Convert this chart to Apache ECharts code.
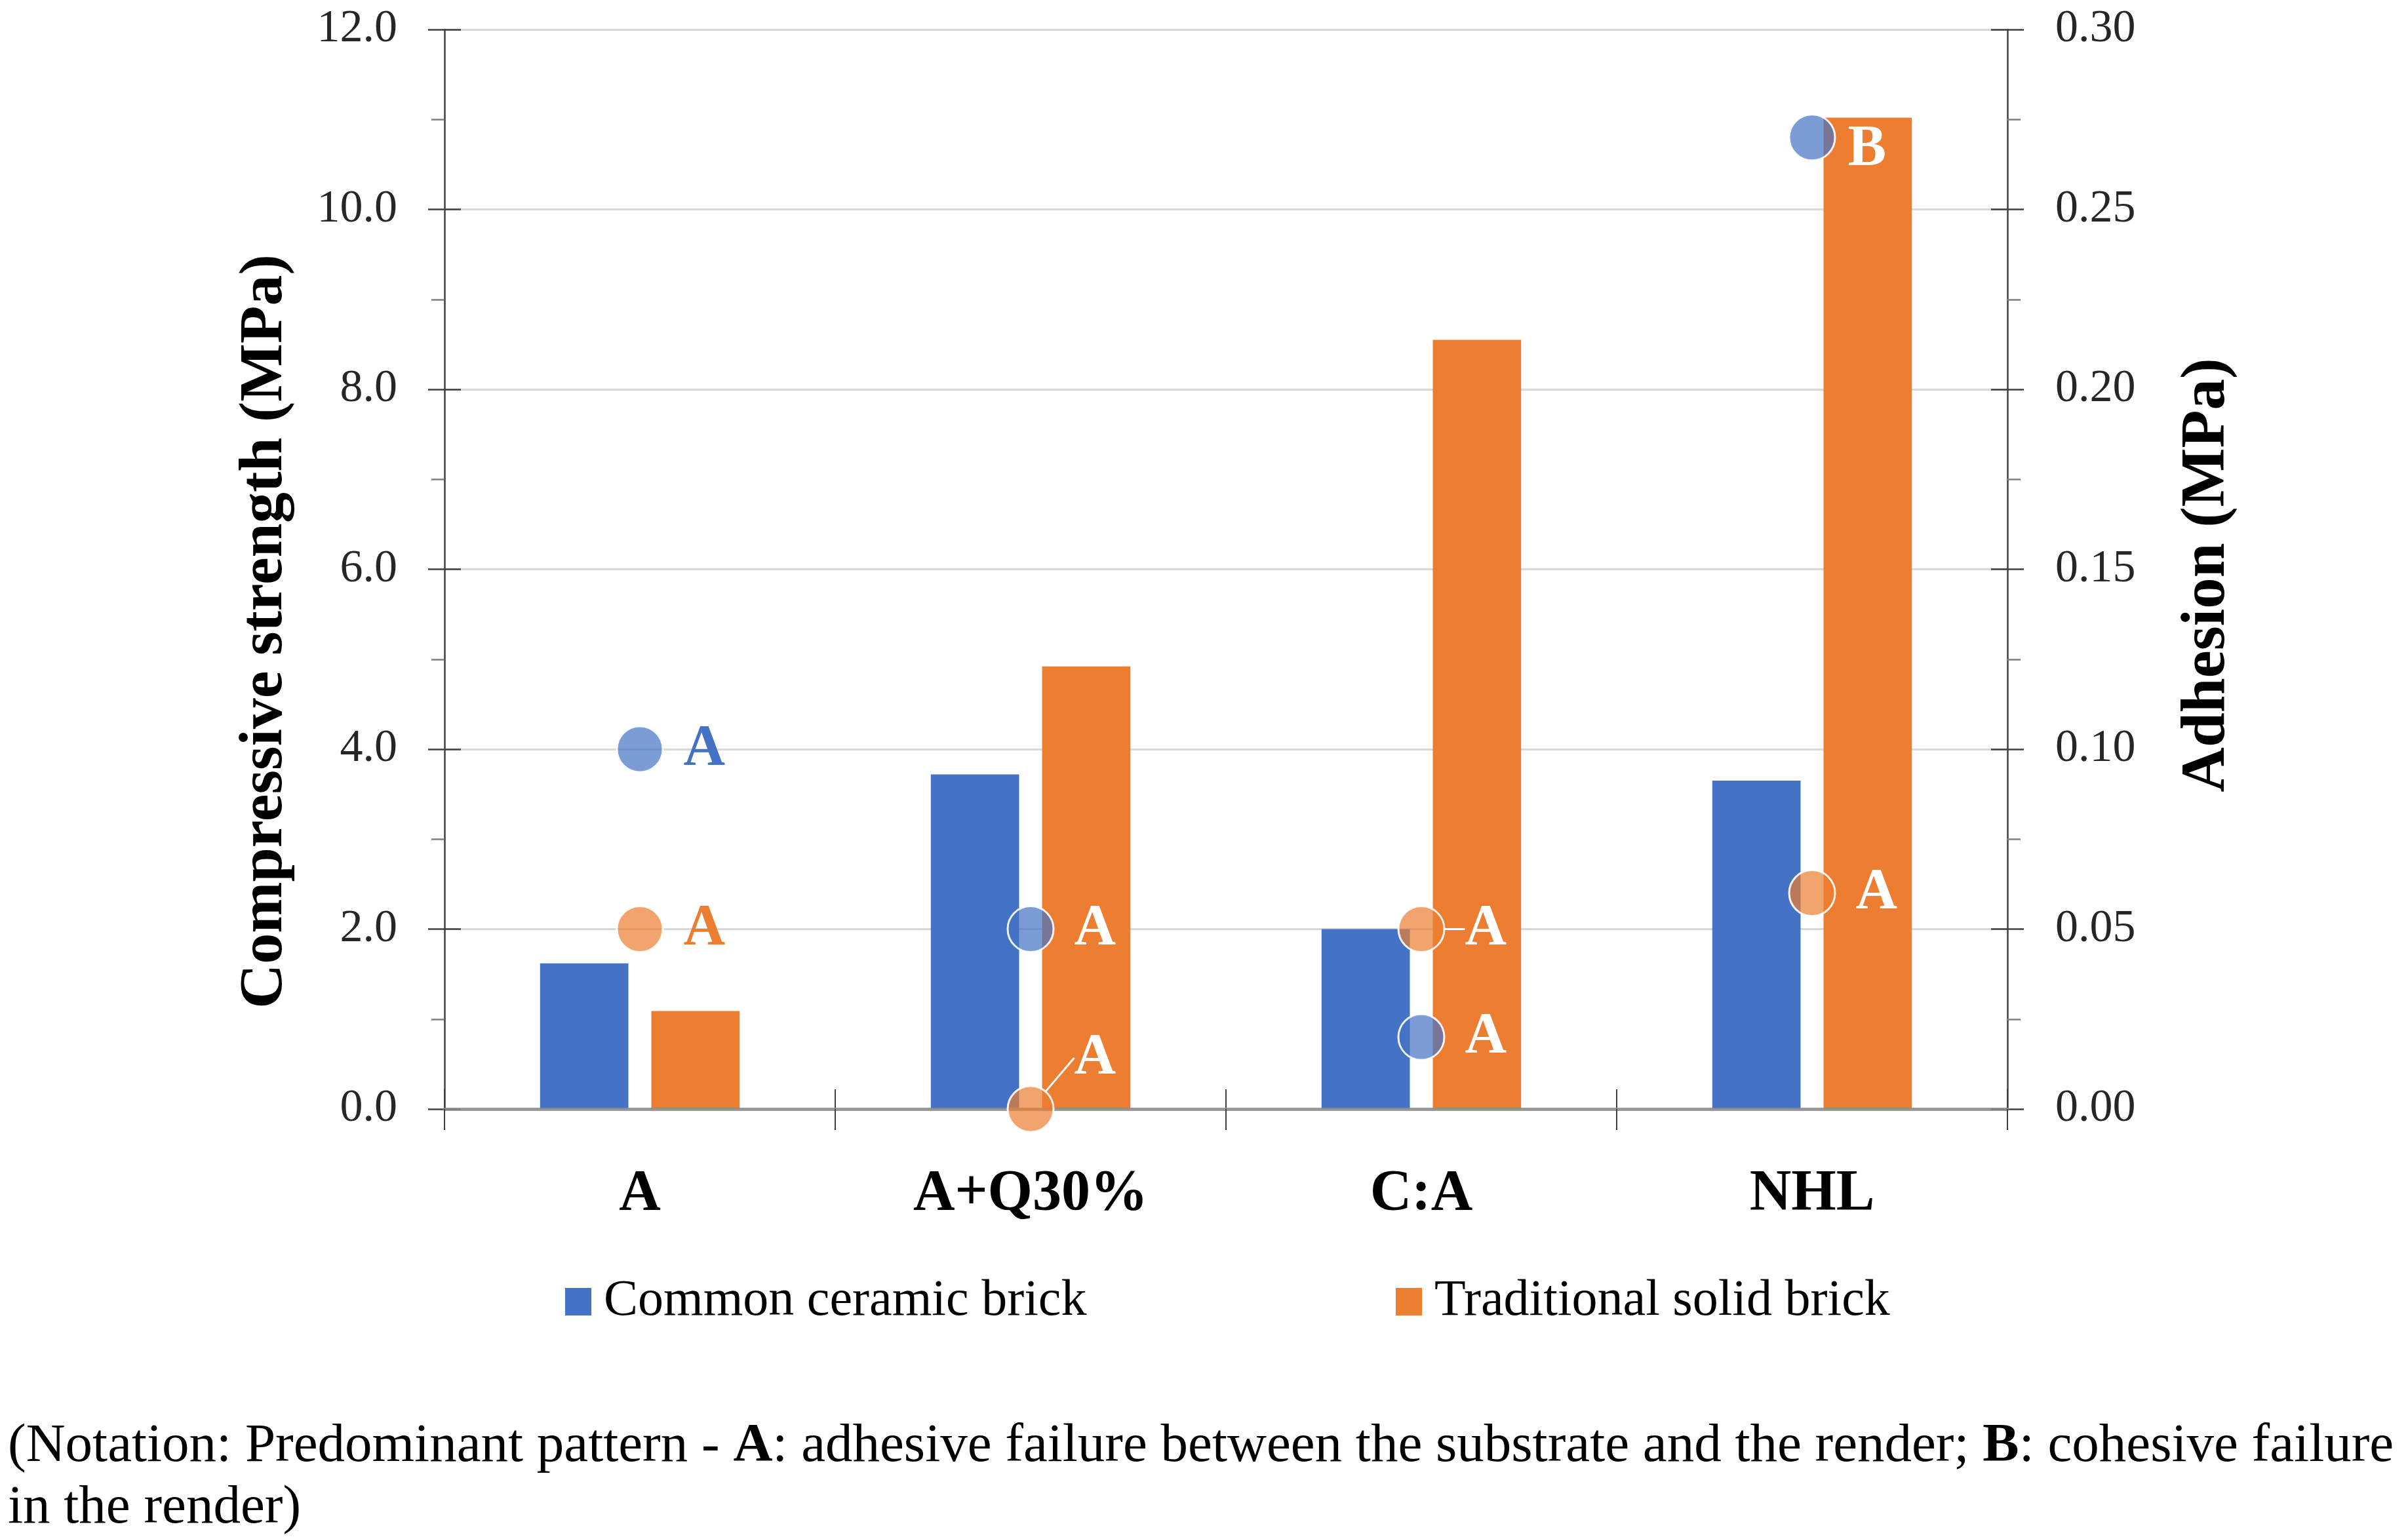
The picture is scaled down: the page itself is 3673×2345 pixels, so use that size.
<!DOCTYPE html>
<html>
<head>
<meta charset="utf-8">
<script src="https://cdn.jsdelivr.net/npm/echarts@6/dist/echarts.min.js"></script>
<style>
  html, body { margin: 0; padding: 0; background: #ffffff; }
  #chart { width: 3673px; height: 2345px; }
</style>
</head>
<body>
<div id="chart"></div>
<script>
// ---- data ----
const categories = ['A', 'A+Q30%', 'C:A', 'NHL'];
const seriesNames = ['Common ceramic brick', 'Traditional solid brick'];
// compressive strength (MPa), left axis
const compCommon = [1.62, 3.72, 2.00, 3.65];
const compTraditional = [1.09, 4.92, 8.55, 11.02];
// adhesion (MPa), right axis
const adhCommon = [0.10, 0.05, 0.02, 0.27];
const adhTraditional = [0.05, 0.00, 0.05, 0.06];
// predominant failure pattern labels
const failCommon = ['A', 'A', 'A', 'B'];
const failTraditional = ['A', 'A', 'A', 'A'];
// axis ranges
const leftAxisRange = [0, 12, 2];
const rightAxisRange = [0, 0.30, 0.05];

const FONT = 'Liberation Serif';
const BLUE = '#4472c4';
const ORANGE = '#ed7d31';

const chart = echarts.init(document.getElementById('chart'));

const scatterCommonData = adhCommon.map((v, i) => ({
  value: v,
  label: { color: i === 0 ? BLUE : '#ffffff' }
}));
const scatterTradData = adhTraditional.map((v, i) => ({
  value: v,
  label: { color: i === 0 ? ORANGE : '#ffffff' },
  labelLine: { show: i === 1 || i === 2 }
}));

const dotLabel = {
  show: true,
  position: 'right',
  distance: 30,
  fontFamily: FONT,
  fontWeight: 'bold',
  fontSize: 88
};

const option = {
  backgroundColor: '#ffffff',
  animation: false,
  title: {
    left: 7,
    top: 2155,
    text: '{n|(Notation: Predominant pattern - }{b|A}{n|: adhesive failure between the substrate and the render; }{b|B}{n|: cohesive failure}\n{n|in the render)}',
    textStyle: {
      fontFamily: FONT,
      fontSize: 83,
      fontWeight: 'normal',
      color: '#000000',
      lineHeight: 94,
      rich: {
        n: { fontFamily: FONT, fontSize: 83, fontWeight: 'normal', color: '#000', lineHeight: 94 },
        b: { fontFamily: FONT, fontSize: 83, fontWeight: 'bold', color: '#000', lineHeight: 94 }
      }
    }
  },
  legend: [
    {
      data: [seriesNames[0]],
      left: 862, top: 1946, padding: 0,
      icon: 'rect', itemWidth: 40, itemHeight: 42,
      textStyle: { fontFamily: FONT, fontSize: 78, color: '#000', lineHeight: 80, padding: [0, 0, 0, 14] }
    },
    {
      data: [seriesNames[1]],
      left: 2129, top: 1946, padding: 0,
      icon: 'rect', itemWidth: 40, itemHeight: 42,
      textStyle: { fontFamily: FONT, fontSize: 78, color: '#000', lineHeight: 80, padding: [0, 0, 0, 14] }
    }
  ],
  grid: { left: 678, right: 611, top: 45, bottom: 653, containLabel: false },
  xAxis: [
    {
      type: 'category',
      data: categories,
      position: 'bottom',
      z: 3,
      axisLine: { show: true, lineStyle: { color: 'rgba(140,140,140,0.85)', width: 5 } },
      axisTick: { show: true, length: 32, lineStyle: { color: '#404040', width: 2 } },
      axisLabel: { fontFamily: FONT, fontWeight: 'bold', fontSize: 88, color: '#000', margin: 86 },
      splitLine: { show: false }
    },
    {
      type: 'category',
      data: categories,
      position: 'bottom',
      axisLine: { show: false },
      axisTick: { show: true, inside: true, length: 30, lineStyle: { color: '#404040', width: 2 } },
      axisLabel: { show: false },
      splitLine: { show: false }
    }
  ],
  yAxis: [
    {
      type: 'value',
      min: leftAxisRange[0], max: leftAxisRange[1], interval: leftAxisRange[2],
      position: 'left',
      axisLine: { show: true, lineStyle: { color: '#404040', width: 2.5 } },
      axisTick: { show: true, length: 25, lineStyle: { color: '#404040', width: 2.5 } },
      minorTick: { show: true, splitNumber: 2, length: 20, lineStyle: { color: '#808080', width: 2.5 } },
      splitLine: { show: true, lineStyle: { color: '#d9d9d9', width: 3 } },
      axisLabel: { formatter: v => v.toFixed(1), fontFamily: FONT, fontSize: 70, color: '#262626', margin: 72 },
      name: 'Compressive strength (MPa)',
      nameLocation: 'middle',
      nameRotate: 90,
      nameGap: 226,
      nameTextStyle: { fontFamily: FONT, fontWeight: 'bold', fontSize: 94, color: '#000', padding: [0, 190, 0, 0] }
    },
    {
      type: 'value',
      min: rightAxisRange[0], max: rightAxisRange[1], interval: rightAxisRange[2],
      position: 'right',
      axisLine: { show: true, lineStyle: { color: '#404040', width: 2.5 } },
      axisTick: { show: true, length: 25, lineStyle: { color: '#404040', width: 2.5 } },
      minorTick: { show: true, splitNumber: 2, length: 20, lineStyle: { color: '#808080', width: 2.5 } },
      splitLine: { show: false },
      axisLabel: { formatter: v => v.toFixed(2), fontFamily: FONT, fontSize: 70, color: '#262626', margin: 73 },
      name: 'Adhesion (MPa)',
      nameLocation: 'middle',
      nameRotate: 90,
      nameGap: 258,
      nameTextStyle: { fontFamily: FONT, fontWeight: 'bold', fontSize: 95, color: '#000', padding: [0, 18, 0, 0] }
    },
    {
      type: 'value',
      min: leftAxisRange[0], max: leftAxisRange[1], interval: leftAxisRange[2],
      position: 'left',
      axisLine: { show: false },
      axisTick: { show: true, inside: true, length: 25, lineStyle: { color: '#404040', width: 2.5 } },
      axisLabel: { show: false },
      splitLine: { show: false }
    },
    {
      type: 'value',
      min: rightAxisRange[0], max: rightAxisRange[1], interval: rightAxisRange[2],
      position: 'right',
      axisLine: { show: false },
      axisTick: { show: true, inside: true, length: 25, lineStyle: { color: '#404040', width: 2.5 } },
      axisLabel: { show: false },
      splitLine: { show: false }
    }
  ],
  series: [
    {
      name: seriesNames[0],
      type: 'bar',
      xAxisIndex: 0, yAxisIndex: 0,
      data: compCommon,
      barWidth: '22.6%',
      barGap: '26%',
      itemStyle: { color: BLUE },
      z: 2
    },
    {
      name: seriesNames[1],
      type: 'bar',
      xAxisIndex: 0, yAxisIndex: 0,
      data: compTraditional,
      barWidth: '22.6%',
      barGap: '26%',
      itemStyle: { color: ORANGE },
      z: 2
    },
    {
      name: 'Adhesion - ' + seriesNames[0],
      type: 'scatter',
      xAxisIndex: 0, yAxisIndex: 1,
      data: scatterCommonData,
      symbol: 'circle',
      symbolSize: 70,
      itemStyle: { color: 'rgba(68,114,196,0.7)', borderColor: 'rgba(255,255,255,0.9)', borderWidth: 3, opacity: 1 },
      label: Object.assign({}, dotLabel, { formatter: p => failCommon[p.dataIndex] }),
      labelLayout: p => (p.dataIndex === 3 ? { dx: -12, dy: 19 } : {}),
      z: 5
    },
    {
      name: 'Adhesion - ' + seriesNames[1],
      type: 'scatter',
      xAxisIndex: 0, yAxisIndex: 1,
      data: scatterTradData,
      symbol: 'circle',
      symbolSize: 70,
      itemStyle: { color: 'rgba(237,125,49,0.7)', borderColor: 'rgba(255,255,255,0.9)', borderWidth: 3, opacity: 1 },
      label: Object.assign({}, dotLabel, { formatter: p => failTraditional[p.dataIndex] }),
      labelLine: { show: true, lineStyle: { color: '#ffffff', width: 3 } },
      labelLayout: p => (p.dataIndex === 1 ? { dx: 0, dy: -78 } : {}),
      z: 5
    }
  ]
};

chart.setOption(option);
</script>
</body>
</html>
